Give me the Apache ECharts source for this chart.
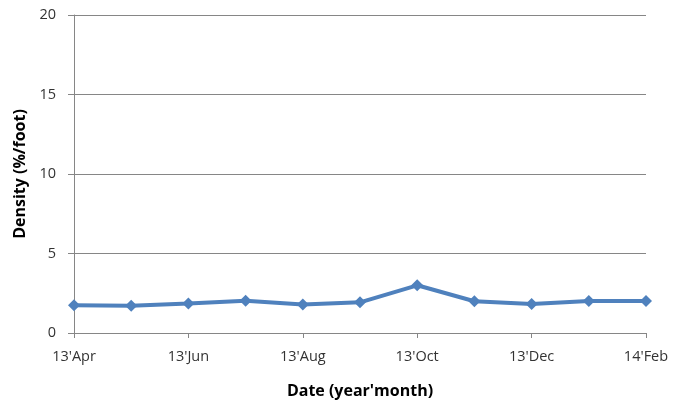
<!DOCTYPE html>
<html><head><meta charset="utf-8">
<script src="https://cdn.jsdelivr.net/npm/echarts@6/dist/echarts.min.js"></script>
<style>html,body{margin:0;padding:0;background:#fff}#c{width:674px;height:405px}</style>
</head><body><div id="c"></div>
<script>
const categories = ["13'Apr","13'May","13'Jun","13'Jul","13'Aug","13'Sep","13'Oct","13'Nov","13'Dec","14'Jan","14'Feb"];
const density = [1.75, 1.72, 1.85, 2.03, 1.8, 1.93, 3.0, 2.0, 1.83, 2.02, 2.02];
const yTicks = {min: 0, max: 20, interval: 5};
const font = "'Open Sans', 'Noto Sans', sans-serif";
const chart = echarts.init(document.getElementById('c'), null, {renderer: 'canvas'});
chart.setOption({
  animation: false,
  grid: {left: 74, right: 28, top: 15, bottom: 72, containLabel: false},
  xAxis: {
    type: 'category', data: categories, boundaryGap: false,
    name: "Date (year'month)", nameLocation: 'middle', nameGap: 50,
    nameTextStyle: {fontFamily: font, fontWeight: 'bold', fontSize: 16, color: '#000'},
    axisLine: {lineStyle: {color: '#868686', width: 1}},
    axisTick: {show: true, interval: 1, length: 5, lineStyle: {color: '#868686'}},
    axisLabel: {interval: 1, fontFamily: font, fontSize: 14.5, color: '#333', margin: 16},
    splitLine: {show: false}
  },
  yAxis: {
    type: 'value', min: yTicks.min, max: yTicks.max, interval: yTicks.interval,
    name: 'Density (%/foot)', nameLocation: 'middle', nameGap: 46,
    nameTextStyle: {fontFamily: font, fontWeight: 'bold', fontSize: 16, color: '#000'},
    axisLine: {show: true, lineStyle: {color: '#868686', width: 1}},
    axisTick: {show: true, length: 6, lineStyle: {color: '#868686'}},
    axisLabel: {fontFamily: font, fontSize: 14.5, color: '#333', margin: 18},
    splitLine: {show: true, lineStyle: {color: '#868686', width: 1}}
  },
  series: [{
    type: 'line', data: density,
    symbol: 'diamond', symbolSize: 12,
    lineStyle: {color: '#4F81BD', width: 4},
    itemStyle: {color: '#4F81BD'}
  }]
});
</script></body></html>
